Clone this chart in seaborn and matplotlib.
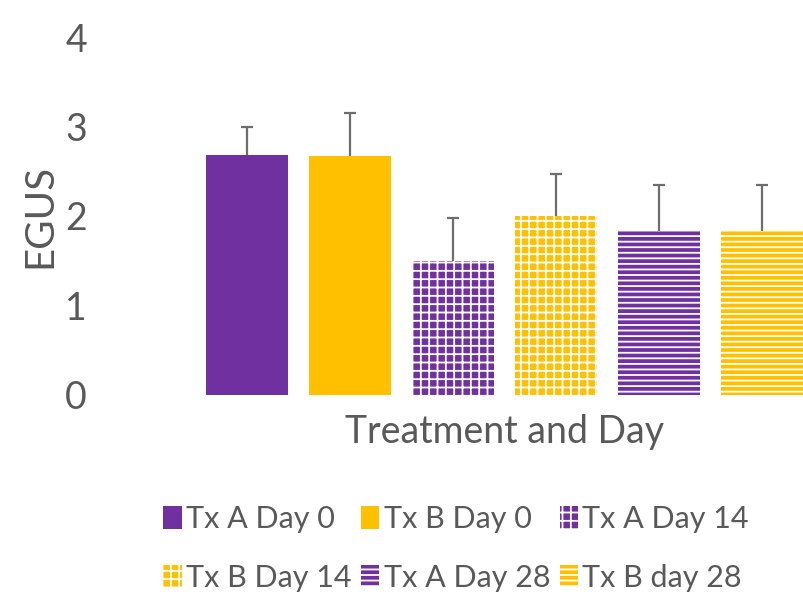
import matplotlib
matplotlib.use('Agg')
import matplotlib.pyplot as plt
import seaborn as sns
import numpy as np
import pandas as pd
from matplotlib.patches import Patch

# Data
groups = ['Tx A Day 0', 'Tx B Day 0', 'Tx A Day 14', 'Tx B Day 14', 'Tx A Day 28', 'Tx B day 28']
egus_mean = [2.68, 2.67, 1.50, 2.00, 1.83, 1.83]
egus_err = [0.32, 0.48, 0.48, 0.47, 0.52, 0.52]
y_ticks = [0, 1, 2, 3, 4]

PURPLE = '#7030A0'
GOLD = '#FFC000'
TEXT = '#595959'
bar_colors = [PURPLE, GOLD, PURPLE, GOLD, PURPLE, GOLD]
bar_hatches = ['', '', '++', '++', '---', '---']

sns.set_style('white')
plt.rcParams['font.family'] = ['Lato', 'DejaVu Sans']
plt.rcParams['hatch.linewidth'] = 1.3

df = pd.DataFrame({'group': groups, 'egus': egus_mean})

fig = plt.figure(figsize=(8.04, 6.0), dpi=100)
ax = fig.add_axes([0.243, 0.342, 0.769, 0.596])

sns.barplot(data=df, x='group', y='egus', hue='group', palette=bar_colors,
            order=groups, hue_order=groups, dodge=False, legend=False,
            width=0.8, errorbar=None, ax=ax, saturation=1)

for patch, hatch in zip(ax.patches, bar_hatches):
    patch.set_linewidth(0)
    if hatch:
        patch.set_hatch(hatch)
        patch.set_edgecolor('white')

# upper-only error bars
xpos = np.arange(len(groups))
_, caps, _ = ax.errorbar(xpos, egus_mean, yerr=[np.zeros(len(groups)), egus_err],
                         fmt='none', ecolor='#6d6d6d', elinewidth=1.6,
                         capsize=4, capthick=1.6)
caps[0].set_visible(False)  # drop the lower caps sitting on the bar tops

ax.set_xlim(-0.5, len(groups) - 0.5)
ax.set_ylim(0, 4)
ax.set_yticks(y_ticks)
ax.set_xticks([])
ax.tick_params(axis='y', labelsize=27, labelcolor=TEXT, pad=78, length=0)
for side in ['top', 'right', 'left', 'bottom']:
    ax.spines[side].set_visible(False)

ax.set_ylabel('EGUS', fontsize=29, color=TEXT, va='center')
ax.yaxis.set_label_coords(-0.252, 0.5)
ax.set_xlabel('Treatment and Day', fontsize=27, color=TEXT, va='center')
ax.xaxis.set_label_coords(0.5, -0.103)

# legend filled row by row like the reference (3 columns)
order = [0, 3, 1, 4, 2, 5]
handles = [Patch(facecolor=bar_colors[i], edgecolor='white' if bar_hatches[i] else bar_colors[i],
                 hatch=bar_hatches[i], linewidth=0) for i in order]
labels = [groups[i] for i in order]
leg = fig.legend(handles, labels, loc='upper left', bbox_to_anchor=(0.203, 0.158),
                 ncol=3, frameon=False, fontsize=22, handlelength=0.6, handleheight=0.75,
                 handletextpad=0.15, columnspacing=0.3, labelspacing=1.0,
                 borderpad=0, borderaxespad=0)
for t in leg.get_texts():
    t.set_color(TEXT)

fig.savefig('out.png', dpi=100, facecolor='white')
